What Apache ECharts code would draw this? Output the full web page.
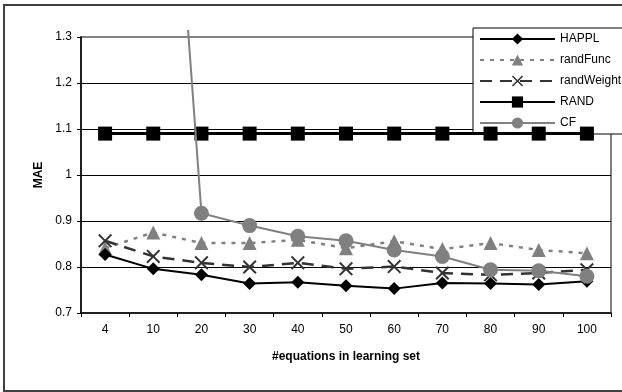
<!DOCTYPE html>
<html>
<head>
<meta charset="utf-8">
<script src="https://cdn.jsdelivr.net/npm/echarts@6/dist/echarts.min.js"></script>
<style>
html,body{margin:0;padding:0;background:#fff;}
#chart{width:622px;height:392px;}
</style>
</head>
<body>
<div id="chart"></div>
<script>
var categories = ['4', '10', '20', '30', '40', '50', '60', '70', '80', '90', '100'];
var happl      = [0.827, 0.796, 0.783, 0.764, 0.767, 0.759, 0.753, 0.765, 0.764, 0.762, 0.769];
var randFunc   = [0.841, 0.875, 0.852, 0.852, 0.859, 0.841, 0.856, 0.839, 0.852, 0.837, 0.830];
var randWeight = [0.857, 0.823, 0.809, 0.800, 0.809, 0.796, 0.801, 0.787, 0.783, 0.787, 0.794];
var rand       = [1.09, 1.09, 1.09, 1.09, 1.09, 1.09, 1.09, 1.09, 1.09, 1.09, 1.09];
var cf         = [null, 2.35, 0.917, 0.890, 0.867, 0.857, 0.837, 0.823, 0.794, 0.792, 0.780];
var yTicks     = [0.7, 0.8, 0.9, 1.0, 1.1, 1.2, 1.3];

var FONT = 'Liberation Sans, Arial, sans-serif';
var crossPath = 'path://M0,1L1,0L5,4L9,0L10,1L6,5L10,9L9,10L5,6L1,10L0,9L4,5Z';

var chart = echarts.init(document.getElementById('chart'), null, {renderer: 'canvas'});
chart.setOption({
  animation: false,
  backgroundColor: '#fff',
  textStyle: {fontFamily: FONT},
  grid: {left: 81, right: 11, top: 37, bottom: 79, show: true, borderColor: '#808080', borderWidth: 2, backgroundColor: 'transparent'},
  legend: {
    orient: 'vertical',
    left: 473, top: 28,
    padding: [5, 6, 5, 6],
    itemWidth: 75, itemHeight: 14, itemGap: 9,
    itemTextGap: 3,
    backgroundColor: '#fff',
    borderColor: '#000', borderWidth: 1,
    textStyle: {fontFamily: FONT, fontSize: 12, color: '#000'},
    data: ['HAPPL', 'randFunc', 'randWeight', 'RAND', 'CF']
  },
  xAxis: {
    type: 'category',
    data: categories,
    boundaryGap: true,
    name: '#equations in learning set',
    nameLocation: 'middle',
    nameGap: 38,
    nameTextStyle: {fontFamily: FONT, fontSize: 12, fontWeight: 'bold', color: '#000'},
    axisLine: {lineStyle: {color: '#000', width: 1.5}},
    axisTick: {show: true, alignWithLabel: false, length: 4, lineStyle: {color: '#000'}},
    axisLabel: {fontFamily: FONT, fontSize: 12, color: '#000', margin: 11},
    splitLine: {show: false}
  },
  yAxis: {
    type: 'value',
    min: 0.7, max: 1.3, interval: 0.1,
    name: 'MAE',
    nameLocation: 'middle',
    nameGap: 33,
    nameTextStyle: {fontFamily: FONT, fontSize: 12, fontWeight: 'bold', color: '#000'},
    axisLine: {show: true, lineStyle: {color: '#000', width: 1.5}},
    axisTick: {show: true, length: 4, lineStyle: {color: '#000'}},
    axisLabel: {fontFamily: FONT, fontSize: 12, color: '#000', margin: 9,
      formatter: function (v) { return String(Math.round(v * 10) / 10); }},
    splitLine: {show: true, showMinLine: false, showMaxLine: false, lineStyle: {color: '#000', width: 1}}
  },
  series: [
    {
      name: 'HAPPL', type: 'line', data: happl, z: 6,
      symbol: 'diamond', symbolSize: 13,
      lineStyle: {color: '#000', width: 2},
      itemStyle: {color: '#000'}
    },
    {
      name: 'randFunc', type: 'line', data: randFunc, z: 3,
      symbol: 'triangle', symbolSize: 14,
      lineStyle: {color: '#808080', width: 2.5, type: [4, 6]},
      itemStyle: {color: '#808080'}
    },
    {
      name: 'randWeight', type: 'line', data: randWeight, z: 4,
      symbol: crossPath, symbolSize: 14,
      lineStyle: {color: '#333', width: 2.5, type: [12, 8]},
      itemStyle: {color: '#333'}
    },
    {
      name: 'RAND', type: 'line', data: rand, z: 5,
      symbol: 'rect', symbolSize: 14,
      lineStyle: {color: '#000', width: 3},
      itemStyle: {color: '#000'}
    },
    {
      name: 'CF', type: 'line', data: cf, z: 7,
      symbol: 'circle', symbolSize: 15, clip: false,
      lineStyle: {color: '#808080', width: 2},
      itemStyle: {color: '#808080'}
    }
  ],
  graphic: [
    {type: 'rect', z: 100, silent: true, shape: {x: 130, y: 0, width: 120, height: 30}, style: {fill: '#fff'}},
    {type: 'rect', z: 101, silent: true, shape: {x: 4, y: 5, width: 700, height: 386}, style: {fill: null, stroke: '#404040', lineWidth: 2}}
  ]
});
</script>
</body>
</html>
